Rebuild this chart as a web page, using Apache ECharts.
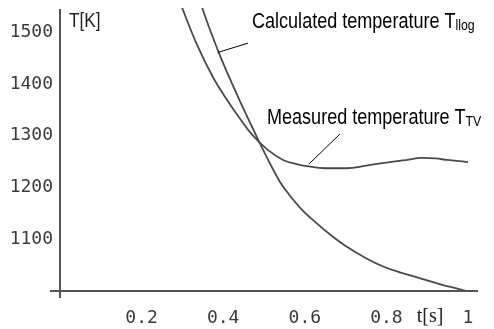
<!DOCTYPE html>
<html>
<head>
<meta charset="utf-8">
<script src="https://cdn.jsdelivr.net/npm/echarts@6/dist/echarts.min.js"></script>
<style>html,body{margin:0;padding:0;background:#fff}#c{width:494px;height:329px}</style>
</head>
<body>
<div id="c"></div>
<script>
// time values t[s] and temperatures T[K]
const measuredT = [0.27, 0.301, 0.338, 0.375, 0.412, 0.44, 0.473, 0.51, 0.547, 0.58, 0.605, 0.65, 0.703, 0.75, 0.79, 0.84, 0.89, 0.92, 0.95, 1.0];
const measuredK = [1610, 1544, 1472, 1413, 1366, 1334, 1300, 1272, 1253, 1245, 1241, 1237, 1237, 1242, 1247, 1252, 1257, 1256, 1253, 1249];
const calcT = [0.33, 0.35, 0.387, 0.412, 0.441, 0.478, 0.50, 0.522, 0.547, 0.588, 0.63, 0.665, 0.703, 0.75, 0.792, 0.835, 0.875, 0.939, 0.97, 0.995];
const calcK = [1600, 1544, 1465, 1418, 1367, 1305, 1269, 1235, 1201, 1161, 1130, 1107, 1085, 1063, 1047, 1035, 1026, 1011, 1005, 1000];
const xTicks = [0.2, 0.4, 0.6, 0.8, 1];
const yTicks = [1100, 1200, 1300, 1400, 1500];
const xRange = [-0.0245, 1.0245];
const yRange = [986, 1545];
const axisOrigin = [0, 1000];
// leader lines for the annotations (data space)
const calcPointer = [[0.387, 1461], [0.461, 1479]];
const measPointer = [[0.610, 1245], [0.686, 1303]];

const zip = (a, b) => a.map((v, i) => [v, b[i]]);
const chart = echarts.init(document.getElementById('c'), null, {renderer: 'canvas'});
const NARROW = '"Liberation Sans Narrow", "Arial Narrow", "Liberation Sans", sans-serif';
const MONO = '"DejaVu Sans Mono", monospace';
const lineStyle = {color: '#4a4a4a', width: 1.8};
const richText = {
  a: {fontFamily: NARROW, fontSize: 22, verticalAlign: 'bottom', lineHeight: 22, color: '#222'},
  b: {fontFamily: NARROW, fontSize: 15, verticalAlign: 'bottom', lineHeight: 18, color: '#222'}
};
chart.setOption({
  animation: false,
  grid: {left: 50, right: 16, top: 9, bottom: 31},
  xAxis: {
    type: 'value', min: xRange[0], max: xRange[1],
    axisLine: {show: false}, axisTick: {show: false}, splitLine: {show: false},
    axisLabel: {customValues: xTicks, margin: 11, fontFamily: MONO, fontSize: 18, color: '#3a3a3a',
      formatter: v => String(v)}
  },
  yAxis: {
    type: 'value', min: yRange[0], max: yRange[1],
    axisLine: {show: false}, axisTick: {show: false}, splitLine: {show: false},
    axisLabel: {customValues: yTicks, margin: -3, fontFamily: MONO, fontSize: 18, color: '#3a3a3a',
      formatter: v => String(v)}
  },
  series: [
    {
      name: 'axes', type: 'line', data: [], silent: true,
      markLine: {
        silent: true, symbol: 'none', animation: false,
        lineStyle: {color: '#555', width: 2, type: 'solid'},
        label: {show: false},
        data: [
          [{coord: [xRange[0], axisOrigin[1]]}, {coord: [xRange[1], axisOrigin[1]]}],
          [{coord: [axisOrigin[0], yRange[0]]}, {coord: [axisOrigin[0], yRange[1]]}]
        ]
      }
    },
    {
      name: 'Measured temperature TTV', type: 'line', data: zip(measuredT, measuredK),
      smooth: 0.4, showSymbol: false, clip: true, lineStyle,
      markLine: {
        silent: true, symbol: 'none', label: {show: false},
        lineStyle: {color: '#000', width: 1, type: 'solid'},
        data: [[{coord: measPointer[0]}, {coord: measPointer[1]}]]
      }
    },
    {
      name: 'Calculated temperature Tllog', type: 'line', data: zip(calcT, calcK),
      smooth: 0.4, showSymbol: false, clip: true, lineStyle,
      markLine: {
        silent: true, symbol: 'none', label: {show: false},
        lineStyle: {color: '#000', width: 1, type: 'solid'},
        data: [[{coord: calcPointer[0]}, {coord: calcPointer[1]}]]
      }
    }
  ],
  graphic: [
    {type: 'text', x: 69, y: 32, scaleX: 0.82, style: {text: 'T[K]', font: '21px ' + NARROW, fill: '#222', verticalAlign: 'bottom'}},
    {type: 'text', x: 252, y: 33, scaleX: 0.82, style: {
      text: '{a|Calculated temperature T}{b|llog}', verticalAlign: 'bottom', rich: richText}},
    {type: 'text', x: 267, y: 129, scaleX: 0.82, style: {
      text: '{a|Measured temperature T}{b|TV}', verticalAlign: 'bottom', rich: richText}},
    {type: 'text', x: 430, y: 317, style: {text: 't[s]', font: '20px "Liberation Serif", serif', fill: '#222', align: 'center', verticalAlign: 'middle'}}
  ]
});
</script>
</body>
</html>
